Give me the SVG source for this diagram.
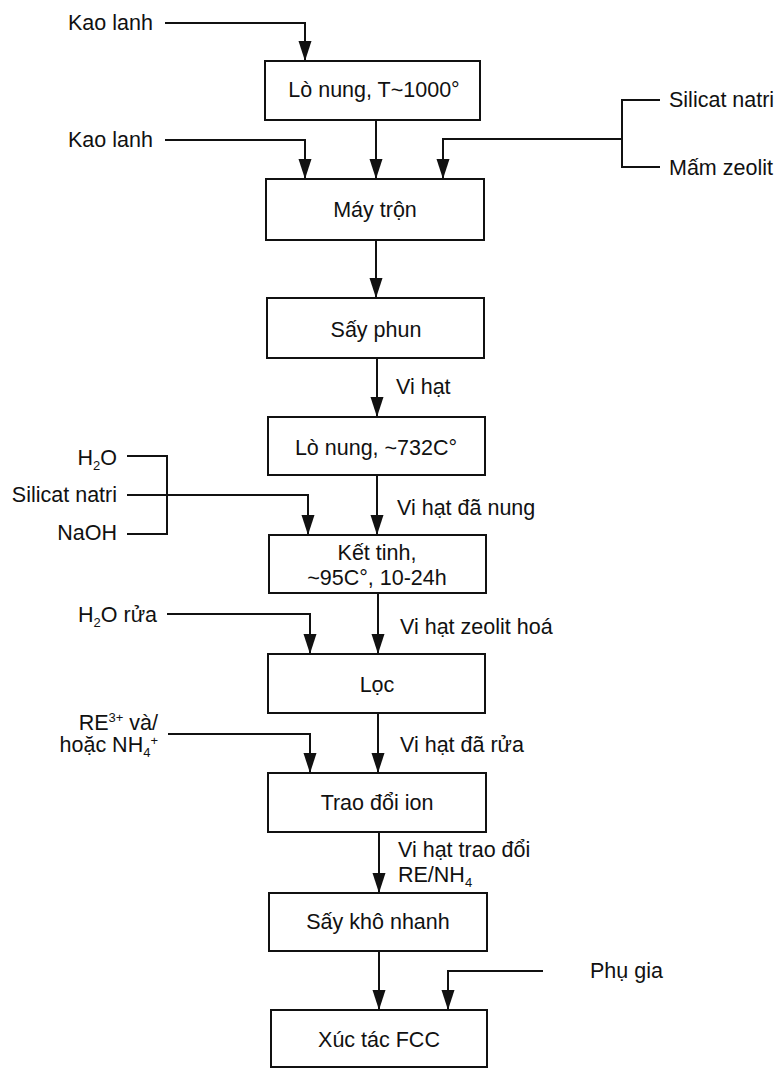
<svg xmlns="http://www.w3.org/2000/svg" width="781" height="1070" viewBox="0 0 781 1070">
<style>
.box{fill:#fff;stroke:#111;stroke-width:2}
.ln{fill:none;stroke:#111;stroke-width:2}
.ar{marker-end:url(#ah)}
text{font-family:"Liberation Sans",Arial,sans-serif;font-size:21.5px;fill:#111}
.c{text-anchor:middle}
.r{text-anchor:end}
.sub{font-size:13px}
</style>
<defs>
<marker id="ah" markerUnits="userSpaceOnUse" markerWidth="20" markerHeight="14" refX="20" refY="6.5" orient="auto">
<path d="M0,0 L20,6.5 L0,13 z" fill="#111"/>
</marker>
</defs>
<rect width="781" height="1070" fill="#fff"/>
<g id="connectors">
<path class="ln ar" d="M165,23 H305 V61"/>
<path class="ln ar" d="M376,120 V179"/>
<path class="ln ar" d="M165,140 H305 V179"/>
<path class="ln" d="M660,100 H622 V167 H660"/>
<path class="ln ar" d="M622,139 H443 V179"/>
<path class="ln ar" d="M376,240 V298"/>
<path class="ln ar" d="M377,358 V417"/>
<path class="ln ar" d="M377,475 V535"/>
<path class="ln" d="M127,456 H167 V534 H127"/>
<path class="ln ar" d="M127,495 H308 V535"/>
<path class="ln ar" d="M378,593 V654"/>
<path class="ln ar" d="M167,614 H310 V654"/>
<path class="ln ar" d="M378,713 V773"/>
<path class="ln ar" d="M168,734 H310 V773"/>
<path class="ln ar" d="M379,832 V893"/>
<path class="ln ar" d="M379,951 V1010"/>
<path class="ln ar" d="M543,971 H448 V1010"/>
</g>
<g id="n1"><rect class="box" x="265" y="61" width="215" height="59"/><text class="c" x="374" y="97">Lò nung, T~1000°</text></g>
<g id="n2"><rect class="box" x="266" y="179" width="218" height="61"/><text class="c" x="375" y="217">Máy trộn</text></g>
<g id="n3"><rect class="box" x="267" y="298" width="217" height="60"/><text class="c" x="376" y="337">Sấy phun</text></g>
<g id="n4"><rect class="box" x="268" y="417" width="217" height="58"/><text class="c" x="376" y="455">Lò nung, ~732C°</text></g>
<g id="n5"><rect class="box" x="269" y="535" width="217" height="58"/><text class="c" x="377" y="560">Kết tinh,</text><text class="c" x="377" y="585">~95C°, 10-24h</text></g>
<g id="n6"><rect class="box" x="268" y="654" width="217" height="59"/><text class="c" x="377" y="692">Lọc</text></g>
<g id="n7"><rect class="box" x="268" y="773" width="218" height="59"/><text class="c" x="377" y="810">Trao đổi ion</text></g>
<g id="n8"><rect class="box" x="269" y="893" width="218" height="58"/><text class="c" x="378" y="929">Sấy khô nhanh</text></g>
<g id="n9"><rect class="box" x="271" y="1010" width="216" height="57"/><text class="c" x="379" y="1047">Xúc tác FCC</text></g>
<g id="labels">
<text x="68" y="30">Kao lanh</text>
<text x="68" y="147">Kao lanh</text>
<text x="669" y="107">Silicat natri</text>
<text x="669" y="175">Mấm zeolit</text>
<text x="396" y="394">Vi hạt</text>
<text class="r" x="117" y="465">H<tspan class="sub" dy="5">2</tspan><tspan dy="-5">O</tspan></text>
<text class="r" x="117" y="502">Silicat natri</text>
<text class="r" x="117" y="540">NaOH</text>
<text x="397" y="515">Vi hạt đã nung</text>
<text class="r" x="157" y="622">H<tspan class="sub" dy="5">2</tspan><tspan dy="-5">O rửa</tspan></text>
<text x="400" y="634">Vi hạt zeolit hoá</text>
<text class="r" x="158" y="730">RE<tspan class="sub" dy="-8">3+</tspan><tspan dy="8"> và/</tspan></text>
<text class="r" x="158" y="752">hoặc NH<tspan class="sub" dy="5">4</tspan><tspan class="sub" dy="-12">+</tspan></text>
<text x="400" y="752">Vi hạt đã rửa</text>
<text x="398" y="857">Vi hạt trao đổi</text>
<text x="398" y="882">RE/NH<tspan class="sub" dy="5">4</tspan></text>
<text x="590" y="978">Phụ gia</text>
</g>
</svg>
